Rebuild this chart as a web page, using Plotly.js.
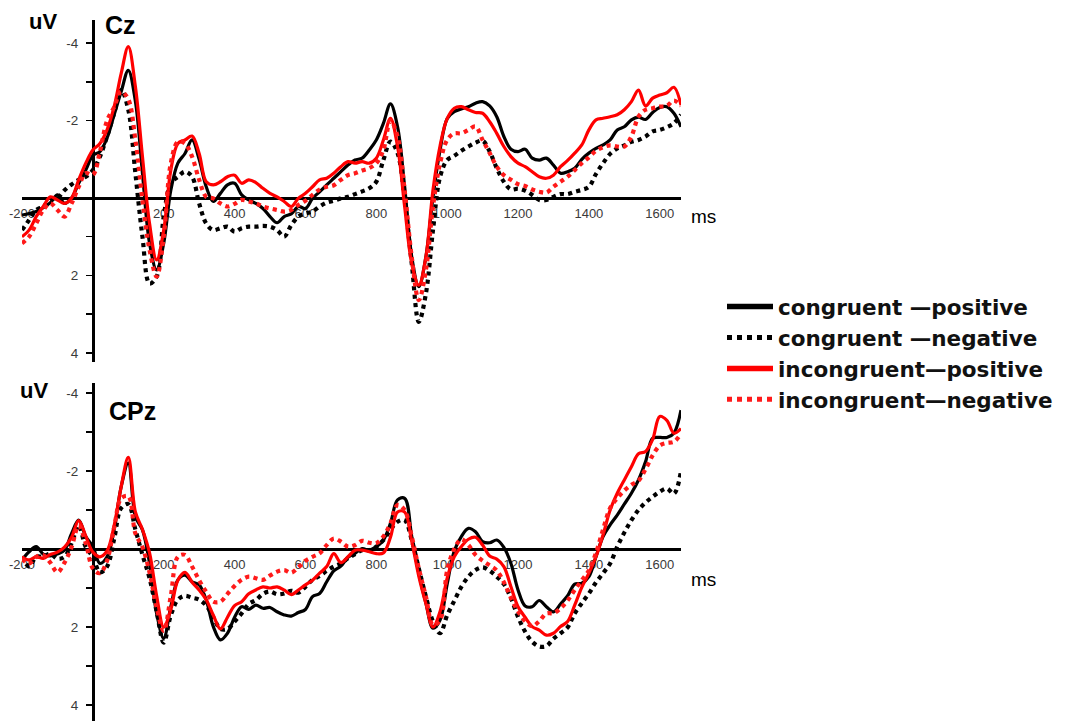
<!DOCTYPE html>
<html>
<head>
<meta charset="utf-8">
<script src="https://cdn.plot.ly/plotly-3.0.1.min.js"></script>
<style>
  html, body { margin: 0; padding: 0; background: #fff; }
  #erp { width: 1085px; height: 721px; }
</style>
</head>
<body>
<div id="erp"></div>
<script>
// Sampling grid: -200 ms to 1660 ms, every 20 ms
const times = [];
for (let t = -200; t <= 1660; t += 20) times.push(t);

// Cz grand averages (uV), one value per time point
const czCongruentPositive = [
  0.44, 0.40, 0.35, 0.25, 0.12, -0.08, 0.14, 0.00, -0.38, -0.72,
  -1.10, -1.20, -1.55, -2.15, -2.75, -3.30, -2.50, -0.64, 1.17, 1.86,
  1.17, -0.20, -0.90, -1.15, -1.50, -1.00, -0.29, 0.09, -0.12, -0.34,
  -0.38, -0.08, 0.05, 0.14, 0.27, 0.48, 0.64, 0.48, 0.41, 0.22,
  0.27, 0.01, -0.16, -0.34, -0.51, -0.68, -0.85, -0.98, -1.03, -1.24,
  -1.50, -1.93, -2.43, -1.84, -0.29, 1.52, 2.29, 1.52, -0.03, -1.24,
  -2.05, -2.23, -2.30, -2.36, -2.45, -2.49, -2.38, -2.10, -1.59, -1.26,
  -1.20, -1.26, -1.03, -0.98, -1.03, -0.85, -0.64, -0.68, -0.77, -1.00,
  -1.16, -1.28, -1.37, -1.50, -1.76, -1.84, -2.02, -2.09, -2.03, -2.21,
  -2.34, -2.36, -2.19, -1.84
];
const czCongruentNegative = [
  0.83, 0.57, 0.31, 0.22, 0.05, 0.00, -0.20, -0.35, -0.47, -0.55,
  -0.72, -1.07, -1.59, -2.19, -2.79, -2.28, -0.64, 1.00, 2.21, 2.03,
  0.48, -0.38, -0.55, -0.68, -0.55, 0.14, 0.66, 0.83, 0.78, 0.74,
  0.87, 0.78, 0.74, 0.74, 0.72, 0.74, 0.83, 1.00, 0.70, 0.48,
  0.40, 0.35, 0.22, 0.12, 0.07, 0.01, -0.03, -0.10, -0.17, -0.25,
  -0.42, -0.98, -1.46, -1.16, 0.05, 1.69, 3.20, 2.47, 0.83, -0.55,
  -0.98, -1.09, -1.22, -1.33, -1.43, -1.48, -1.20, -0.77, -0.42, -0.22,
  -0.24, -0.19, -0.08, 0.05, 0.05, -0.03, -0.10, -0.10, -0.16, -0.21,
  -0.29, -0.62, -0.90, -1.14, -1.28, -1.36, -1.45, -1.50, -1.59, -1.72,
  -1.76, -1.83, -1.93, -2.15
];
const czIncongruentPositive = [
  1.00, 0.83, 0.48, 0.22, -0.03, 0.05, 0.14, 0.00, -0.47, -0.90,
  -1.24, -1.41, -1.76, -2.36, -3.22, -3.91, -2.88, -1.07, 0.66, 1.60,
  0.83, -0.72, -1.41, -1.50, -1.60, -1.15, -0.42, -0.34, -0.42, -0.55,
  -0.59, -0.38, -0.47, -0.40, -0.25, -0.12, -0.03, 0.09, 0.22, 0.01,
  -0.12, -0.29, -0.47, -0.51, -0.64, -0.81, -0.94, -0.90, -0.94, -0.90,
  -1.03, -1.50, -2.06, -1.33, 0.22, 1.69, 2.25, 1.52, -0.21, -1.35,
  -2.05, -2.32, -2.36, -2.28, -2.21, -2.19, -1.97, -1.67, -1.33, -1.07,
  -0.90, -0.81, -0.68, -0.55, -0.51, -0.59, -0.81, -0.97, -1.16, -1.37,
  -1.76, -2.02, -2.06, -2.10, -2.15, -2.28, -2.49, -2.79, -2.38, -2.58,
  -2.66, -2.72, -2.86, -2.40
];
const czIncongruentNegative = [
  1.17, 1.00, 0.66, 0.31, 0.14, 0.31, 0.48, 0.14, -0.29, -0.64,
  -0.60, -1.20, -2.00, -2.35, -2.75, -2.55, -1.50, 0.05, 1.34, 2.03,
  1.00, -0.90, -1.45, -1.41, -1.07, -0.47, -0.03, 0.01, 0.14, 0.22,
  0.15, 0.05, 0.09, 0.14, 0.22, 0.27, 0.31, 0.35, 0.31, 0.18,
  0.07, -0.08, -0.22, -0.29, -0.33, -0.47, -0.59, -0.64, -0.71, -0.77,
  -0.90, -1.24, -2.00, -1.59, -0.20, 1.52, 2.64, 1.86, 0.22, -0.90,
  -1.50, -1.67, -1.67, -1.76, -1.85, -1.50, -1.16, -0.81, -0.59, -0.47,
  -0.36, -0.31, -0.22, -0.16, -0.14, -0.29, -0.42, -0.55, -0.72, -0.90,
  -1.05, -1.22, -1.31, -1.36, -1.33, -1.33, -1.59, -2.10, -2.28, -2.32,
  -2.36, -2.38, -2.52, -2.38
];

// CPz grand averages (uV)
const cpzCongruentPositive = [
  0.28, 0.07, -0.06, 0.13, 0.18, 0.13, 0.03, -0.40, -0.74, -0.32,
  -0.06, 0.37, 0.20, -0.49, -1.60, -2.20, -0.83, -0.49, 0.37, 1.65,
  2.29, 1.48, 0.79, 0.67, 0.84, 0.92, 1.31, 1.99, 2.33, 2.16,
  1.75, 1.48, 1.55, 1.44, 1.52, 1.50, 1.61, 1.69, 1.72, 1.63,
  1.55, 1.22, 1.14, 0.84, 0.56, 0.44, 0.21, 0.11, -0.01, 0.03,
  -0.06, -0.23, -0.66, -1.26, -1.30, -0.32, 0.62, 1.39, 2.03, 1.82,
  0.90, 0.05, -0.32, -0.53, -0.44, -0.19, -0.16, -0.23, -0.04, 0.37,
  1.05, 1.46, 1.48, 1.32, 1.48, 1.61, 1.41, 1.20, 0.90, 0.88,
  0.71, 0.20, -0.32, -0.62, -0.87, -1.15, -1.43, -1.77, -2.24, -2.84,
  -2.86, -2.86, -2.97, -3.56
];
const cpzCongruentNegative = [
  0.20, 0.45, 0.20, 0.20, 0.12, 0.25, 0.20, -0.15, -0.60, -0.05,
  0.20, 0.60, 0.45, -0.25, -1.05, -1.15, -0.50, 0.15, 0.75, 1.60,
  2.40, 1.70, 1.30, 1.20, 1.25, 1.30, 1.45, 1.75, 2.05, 2.05,
  1.86, 1.65, 1.41, 1.31, 1.15, 1.09, 1.16, 1.14, 1.07, 1.12,
  0.97, 0.79, 0.69, 0.56, 0.45, 0.37, 0.24, 0.13, 0.03, 0.03,
  -0.06, -0.23, -0.49, -0.70, -0.74, -0.23, 0.50, 1.22, 1.86, 2.16,
  1.70, 1.33, 0.97, 0.71, 0.54, 0.47, 0.56, 0.71, 0.90, 1.26,
  1.74, 2.12, 2.38, 2.50, 2.49, 2.30, 2.16, 2.01, 1.65, 1.39,
  1.14, 0.86, 0.62, 0.37, -0.06, -0.42, -0.74, -1.00, -1.19, -1.34,
  -1.47, -1.55, -1.42, -2.00
];
const cpzIncongruentPositive = [
  0.20, 0.28, 0.20, 0.24, 0.14, 0.08, -0.05, -0.30, -0.73, -0.33,
  0.08, 0.20, 0.05, -0.60, -1.60, -2.35, -0.95, -0.50, 0.10, 1.20,
  2.00, 1.55, 0.80, 0.60, 0.85, 1.05, 1.30, 1.70, 2.05, 1.75,
  1.45, 1.35, 1.15, 1.05, 0.97, 1.00, 0.97, 1.05, 1.17, 1.05,
  0.92, 0.80, 0.62, 0.45, 0.12, 0.35, 0.20, 0.03, 0.03, 0.07,
  0.12, 0.10, -0.30, -0.95, -0.95, -0.20, 0.70, 1.40, 2.00, 1.60,
  0.75, 0.20, -0.06, -0.25, -0.30, -0.10, 0.18, 0.26, 0.45, 0.97,
  1.48, 1.75, 1.99, 2.08, 2.21, 2.16, 1.99, 1.86, 1.44, 0.98,
  0.62, 0.20, -0.36, -1.00, -1.43, -1.77, -2.11, -2.44, -2.50, -2.81,
  -3.40, -3.30, -2.97, -3.09
];
const cpzIncongruentNegative = [
  0.25, 0.37, 0.20, 0.16, 0.35, 0.60, 0.35, -0.05, -0.60, -0.15,
  0.50, 0.62, 0.30, -0.55, -1.30, -1.35, -0.40, -0.05, 0.60, 1.50,
  2.10, 1.20, 0.20, 0.15, 0.45, 0.80, 1.10, 1.35, 1.35, 1.15,
  0.95, 0.79, 0.71, 0.75, 0.79, 0.68, 0.58, 0.54, 0.61, 0.47,
  0.30, 0.20, 0.11, -0.10, -0.27, -0.19, -0.06, -0.10, -0.21, -0.16,
  -0.15, -0.32, -0.66, -1.13, -1.00, -0.32, 0.50, 1.22, 1.95, 1.82,
  0.55, 0.00, -0.25, -0.10, 0.15, 0.30, 0.42, 0.55, 0.85, 1.25,
  1.60, 1.85, 1.98, 1.85, 1.65, 1.65, 1.52, 1.32, 1.05, 0.80,
  0.55, 0.10, -0.50, -1.05, -1.30, -1.50, -1.65, -1.75, -2.05, -2.40,
  -2.65, -2.72, -2.75, -2.95
];

// Tick labels
const xTickVals = [-200, 200, 400, 600, 800, 1000, 1200, 1400, 1600];
const xTickText = ['-200', '200', '400', '600', '800', '1000', '1200', '1400', '1600'];
const yTickVals = [-4, -3, -2, -1, 1, 2, 3, 4];
const yTickText = ['-4', '', '-2', '', '', '2', '', '4'];

// Condition names and line styles
const conditionNames = [
  'congruent \u2014positive',
  'congruent \u2014negative',
  'incongruent\u2014positive',
  'incongruent\u2014negative'
];
const lineStyles = [
  { color: '#000000', width: 3.2, dash: 'solid' },
  { color: '#000000', width: 4.2, dash: 'dot' },
  { color: '#ff0000', width: 3.2, dash: 'solid' },
  { color: '#ff1a1a', width: 4.2, dash: 'dot' }
];

const czSeries = [czCongruentPositive, czCongruentNegative, czIncongruentPositive, czIncongruentNegative];
const cpzSeries = [cpzCongruentPositive, cpzCongruentNegative, cpzIncongruentPositive, cpzIncongruentNegative];

const traces = [];
czSeries.forEach((vals, i) => {
  traces.push({
    type: 'scatter', mode: 'lines', x: times, y: vals,
    xaxis: 'x', yaxis: 'y', name: conditionNames[i], legendgroup: 'c' + i,
    showlegend: false,
    line: { color: lineStyles[i].color, width: lineStyles[i].width, dash: lineStyles[i].dash, shape: 'spline', smoothing: 1 }
  });
});
cpzSeries.forEach((vals, i) => {
  traces.push({
    type: 'scatter', mode: 'lines', x: times, y: vals,
    xaxis: 'x2', yaxis: 'y2', name: conditionNames[i], legendgroup: 'c' + i,
    showlegend: false,
    line: { color: lineStyles[i].color, width: lineStyles[i].width, dash: lineStyles[i].dash, shape: 'spline', smoothing: 1 }
  });
});
// Legend keys with heavier strokes
conditionNames.forEach((name, i) => {
  traces.push({
    type: 'scatter', mode: 'lines', x: [null], y: [null],
    xaxis: 'x', yaxis: 'y', name: name, legendgroup: 'c' + i, showlegend: true,
    line: { color: lineStyles[i].color, width: i % 2 ? 5 : 5.5, dash: lineStyles[i].dash }
  });
});

const W = 1085, H = 721;
const px = v => v / W;
const py = v => 1 - v / H;

const xAxisBase = {
  range: [-200, 1660], domain: [px(22), px(681)],
  anchor: 'free', showline: true, linecolor: '#000', linewidth: 2.5,
  showgrid: false, zeroline: false, ticks: '',
  tickvals: xTickVals, ticktext: xTickText, ticklabelstandoff: 3,
  tickfont: { family: 'Liberation Sans, Arial, sans-serif', size: 13, color: '#3a3a3a' },
  layer: 'below traces', fixedrange: true
};
const yAxisBase = {
  anchor: 'free', position: px(93), side: 'left',
  showline: true, linecolor: '#000', linewidth: 3,
  showgrid: false, zeroline: false,
  ticks: 'outside', ticklen: 6, tickwidth: 1.5, tickcolor: '#000',
  tickvals: yTickVals, ticktext: yTickText, ticklabelstandoff: 5,
  tickfont: { family: 'Liberation Sans, Arial, sans-serif', size: 13.5, color: '#3a3a3a' },
  layer: 'below traces', fixedrange: true
};

const boldFont = (size) => ({ family: 'Liberation Sans, Arial, sans-serif', size: size, color: '#000', weight: 'bold' });
const label = (text, x, y, font) => ({
  text: text, xref: 'paper', yref: 'paper', x: px(x), y: py(y),
  xanchor: 'center', yanchor: 'middle', showarrow: false, font: font
});
const msFont = { family: 'Liberation Sans, Arial, sans-serif', size: 19, color: '#000' };

const layout = {
  width: W, height: H,
  margin: { l: 0, r: 0, t: 0, b: 0, pad: 0 },
  paper_bgcolor: '#ffffff', plot_bgcolor: 'rgba(0,0,0,0)',
  showlegend: true,
  legend: {
    x: px(722), y: py(286), xanchor: 'left', yanchor: 'top',
    bgcolor: 'rgba(0,0,0,0)', borderwidth: 0,
    font: { family: 'DejaVu Sans, Verdana, sans-serif', size: 21.5, color: '#111', weight: 'bold' },
    itemwidth: 46, tracegroupgap: 0, traceorder: 'normal'
  },
  xaxis: Object.assign({}, xAxisBase, { position: py(198) }),
  yaxis: Object.assign({}, yAxisBase, { domain: [py(362), py(20)], range: [(362 - 198) / 38.7, (20 - 198) / 38.7] }),
  xaxis2: Object.assign({}, xAxisBase, { position: py(549) }),
  yaxis2: Object.assign({}, yAxisBase, { domain: [0, py(383)], range: [(721 - 549) / 39, (383 - 549) / 39] }),
  annotations: [
    label('uV', 43, 22, boldFont(22)),
    label('Cz', 120, 25, boldFont(25)),
    label('uV', 34, 390, boldFont(22)),
    label('CPz', 132, 411, boldFont(25)),
    label('ms', 703, 217, msFont),
    label('ms', 703, 579, msFont)
  ]
};

Plotly.newPlot('erp', traces, layout, { displayModeBar: false, staticPlot: true });
</script>
</body>
</html>
